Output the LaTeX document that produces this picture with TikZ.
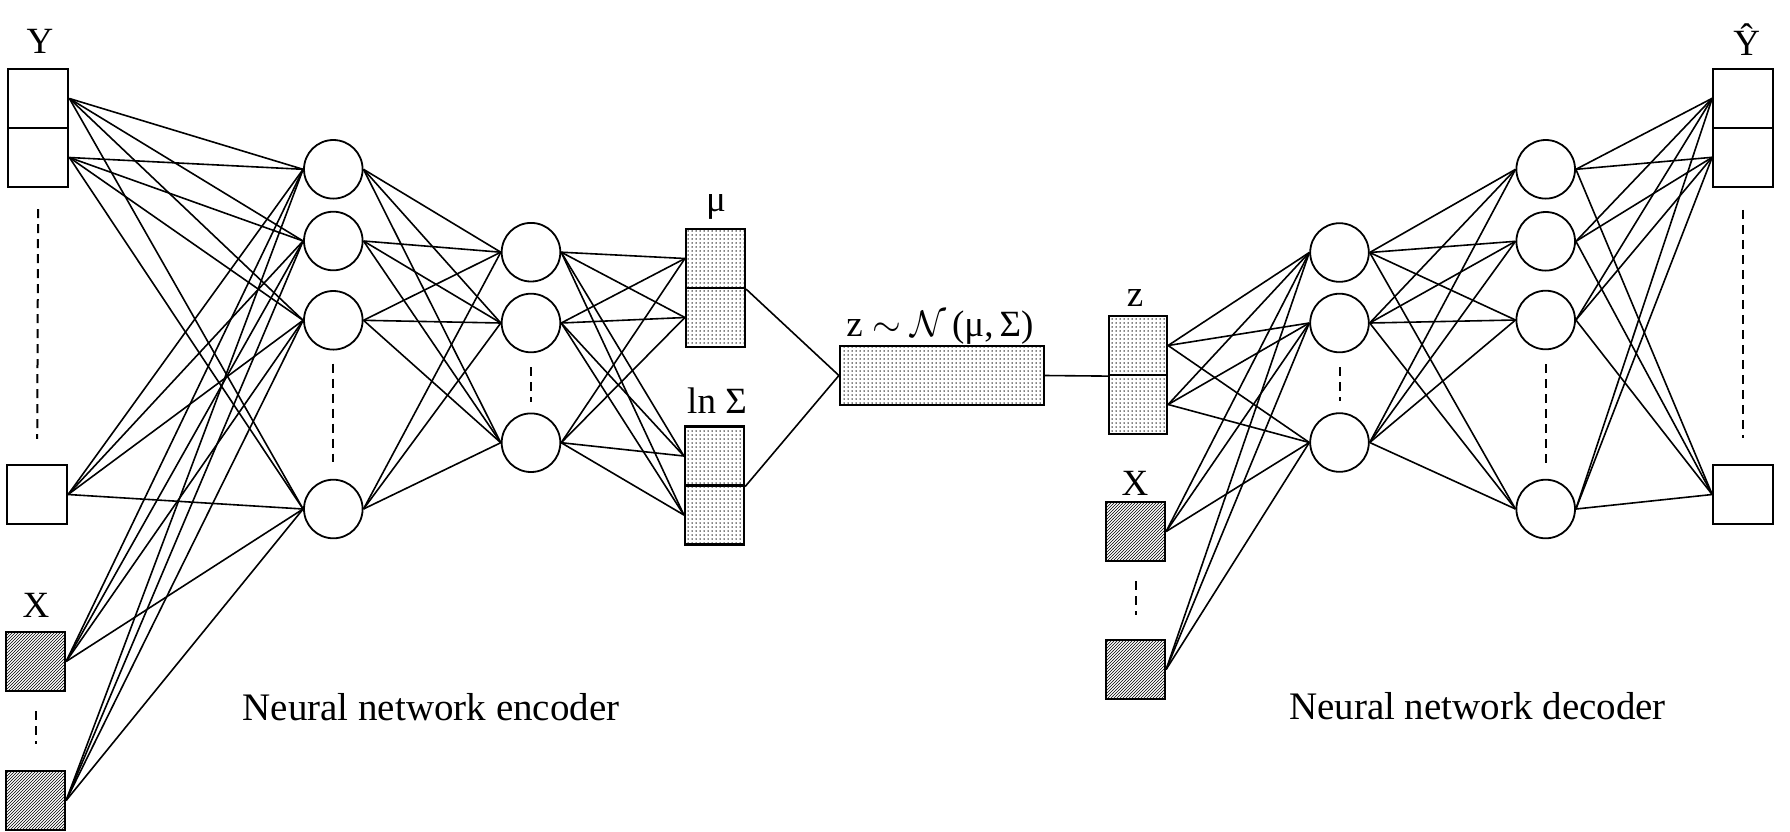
\RequirePackage{fix-cm}
\documentclass[tikz,border=0pt]{standalone}
\usepackage{fontspec}
\setmainfont{Liberation Serif}
\usetikzlibrary{patterns}
\newcommand\lblsize{\fontsize{37}{44}\selectfont}
\newcommand\capsize{\fontsize{39}{46}\selectfont}

\pgfdeclarepatternformonly{xhatch}{\pgfqpoint{-1pt}{-1pt}}{\pgfqpoint{4pt}{4pt}}{\pgfqpoint{3pt}{3pt}}%
  {\pgfsetlinewidth{0.55pt}\pgfpathmoveto{\pgfqpoint{0pt}{0pt}}\pgfpathlineto{\pgfqpoint{3.1pt}{3.1pt}}\pgfusepath{stroke}}
\pgfdeclarepatternformonly{zdots}{\pgfqpoint{-1pt}{-1pt}}{\pgfqpoint{1pt}{1pt}}{\pgfqpoint{4pt}{4pt}}%
  {\pgfpathcircle{\pgfpointorigin}{0.75pt}\pgfusepath{fill}}

\tikzset{
  neuron/.style={circle, draw, line width=1.8pt, minimum size=58.6pt, inner sep=0pt},
  cell/.style={draw, line width=2.2pt, minimum width=59pt, minimum height=59pt, inner sep=0pt},
  dotcell/.style={cell, pattern=zdots},
  hatchcell/.style={cell, pattern=xhatch},
  link/.style={line width=1.6pt},
  skip/.style={line width=2pt, dash pattern=on 9pt off 6pt},
  lbl/.style={font=\lblsize, anchor=base, inner sep=0pt}
}

\begin{document}
\begin{tikzpicture}[x=1pt,y=-1pt]
    \useasboundingbox (0,0) rectangle (1790,831);

    % encoder inputs
    \node[cell, minimum width=60pt] (y1) at (38.3,98.5) {};
    \node[cell, minimum width=60pt] (y2) at (38.3,157.5) {};
    \node[cell, minimum width=60pt] (yn) at (37,494.5) {};
    \node[hatchcell] (x1) at (35.5,661.5) {};
    \node[hatchcell] (xn) at (35.5,800.5) {};
    \node[lbl] (ylab) at (40,53) {Y};
    \node[lbl] (xlab) at (36,617) {X};

    % encoder hidden layers
    \node[neuron] (h1) at (333.3,169.3) {};
    \node[neuron] (h2) at (333.3,241) {};
    \node[neuron] (h3) at (333.3,320.3) {};
    \node[neuron] (h4) at (333.3,509) {};
    \node[neuron] (g1) at (531,252.2) {};
    \node[neuron] (g2) at (531,323) {};
    \node[neuron] (g3) at (531,442.7) {};

    % latent
    \node[dotcell] (mu1) at (715.5,258.5) {};
    \node[dotcell] (mu2) at (715.5,317.5) {};
    \node[dotcell] (ls1) at (714.5,456) {};
    \node[dotcell] (ls2) at (714.5,515) {};
    \node[lbl] (mulab) at (716,211.5) {μ};
    \node[lbl] (lslab) at (717,413) {ln Σ};
    \node[dotcell, minimum width=204pt] (zd) at (942,375.5) {};
    \node[lbl] (zdlab) at (940,336.5) {z $\sim$ $\mathcal{N}$\,(μ,\,Σ)};

    % decoder inputs
    \node[dotcell, minimum width=58pt] (z1) at (1138,345.5) {};
    \node[dotcell, minimum width=58pt] (z2) at (1138,404.5) {};
    \node[hatchcell] (xd1) at (1135.5,531.5) {};
    \node[hatchcell] (xdn) at (1135.5,669.5) {};
    \node[lbl] (zlab) at (1135,306.5) {z};
    \node[lbl] (xdlab) at (1135,495) {X};

    % decoder hidden layers
    \node[neuron] (d1) at (1339.5,252.5) {};
    \node[neuron] (d2) at (1339.5,323) {};
    \node[neuron] (d3) at (1339.5,442.5) {};
    \node[neuron] (e1) at (1545.7,169.3) {};
    \node[neuron] (e2) at (1545.7,241.3) {};
    \node[neuron] (e3) at (1545.7,320) {};
    \node[neuron] (e4) at (1545.7,509) {};

    % decoder outputs
    \node[cell, minimum width=60pt] (yh1) at (1743.3,98.3) {};
    \node[cell, minimum width=60pt] (yh2) at (1743.3,157.3) {};
    \node[cell, minimum width=60pt] (yhn) at (1743.3,494.5) {};
    \node[lbl] (yhlab) at (1746.7,55) {Ŷ};

    \node[lbl, font=\capsize] (enc) at (431,720) {Neural network encoder};
    \node[lbl, font=\capsize] (dec) at (1477.5,719) {Neural network decoder};

    % skipped units
    \draw[skip, shorten <=21pt, shorten >=25pt] (y2) -- (yn);
    \draw[skip, shorten <=19pt, shorten >=26pt] (x1) -- (xn);
    \draw[skip, shorten <=13pt, shorten >=17pt] (h3) -- (h4);
    \draw[skip, shorten <=14pt, shorten >=11pt] (g2) -- (g3);
    \draw[skip, shorten <=19pt, shorten >=24pt] (xd1) -- (xdn);
    \draw[skip, shorten <=14pt, shorten >=11pt] (d2) -- (d3);
    \draw[skip, shorten <=14pt, shorten >=16pt] (e3) -- (e4);
    \draw[skip, shorten <=22pt, shorten >=26pt] (yh2) -- (yhn);

    % weights
    \foreach \a in {y1,y2,yn,x1,xn}
      \foreach \b in {h1,h2,h3,h4}
        \draw[link] (\a.east) -- (\b.west);
    \foreach \a in {h1,h2,h3,h4}
      \foreach \b in {g1,g2,g3}
        \draw[link] (\a.east) -- (\b.west);
    \foreach \a in {g1,g2,g3}
      \foreach \b in {mu1,mu2,ls1,ls2}
        \draw[link] (\a.east) -- (\b.west);
    \draw[link] (mu1.south east) -- (zd.west);
    \draw[link] (ls1.south east) -- (zd.west);
    \draw[link] (zd.east) -- (z1.south west);
    \foreach \a in {z1,z2,xd1,xdn}
      \foreach \b in {d1,d2,d3}
        \draw[link] (\a.east) -- (\b.west);
    \foreach \a in {d1,d2,d3}
      \foreach \b in {e1,e2,e3,e4}
        \draw[link] (\a.east) -- (\b.west);
    \foreach \a in {e1,e2,e3,e4}
      \foreach \b in {yh1,yh2,yhn}
        \draw[link] (\a.east) -- (\b.west);
\end{tikzpicture}
\end{document}
